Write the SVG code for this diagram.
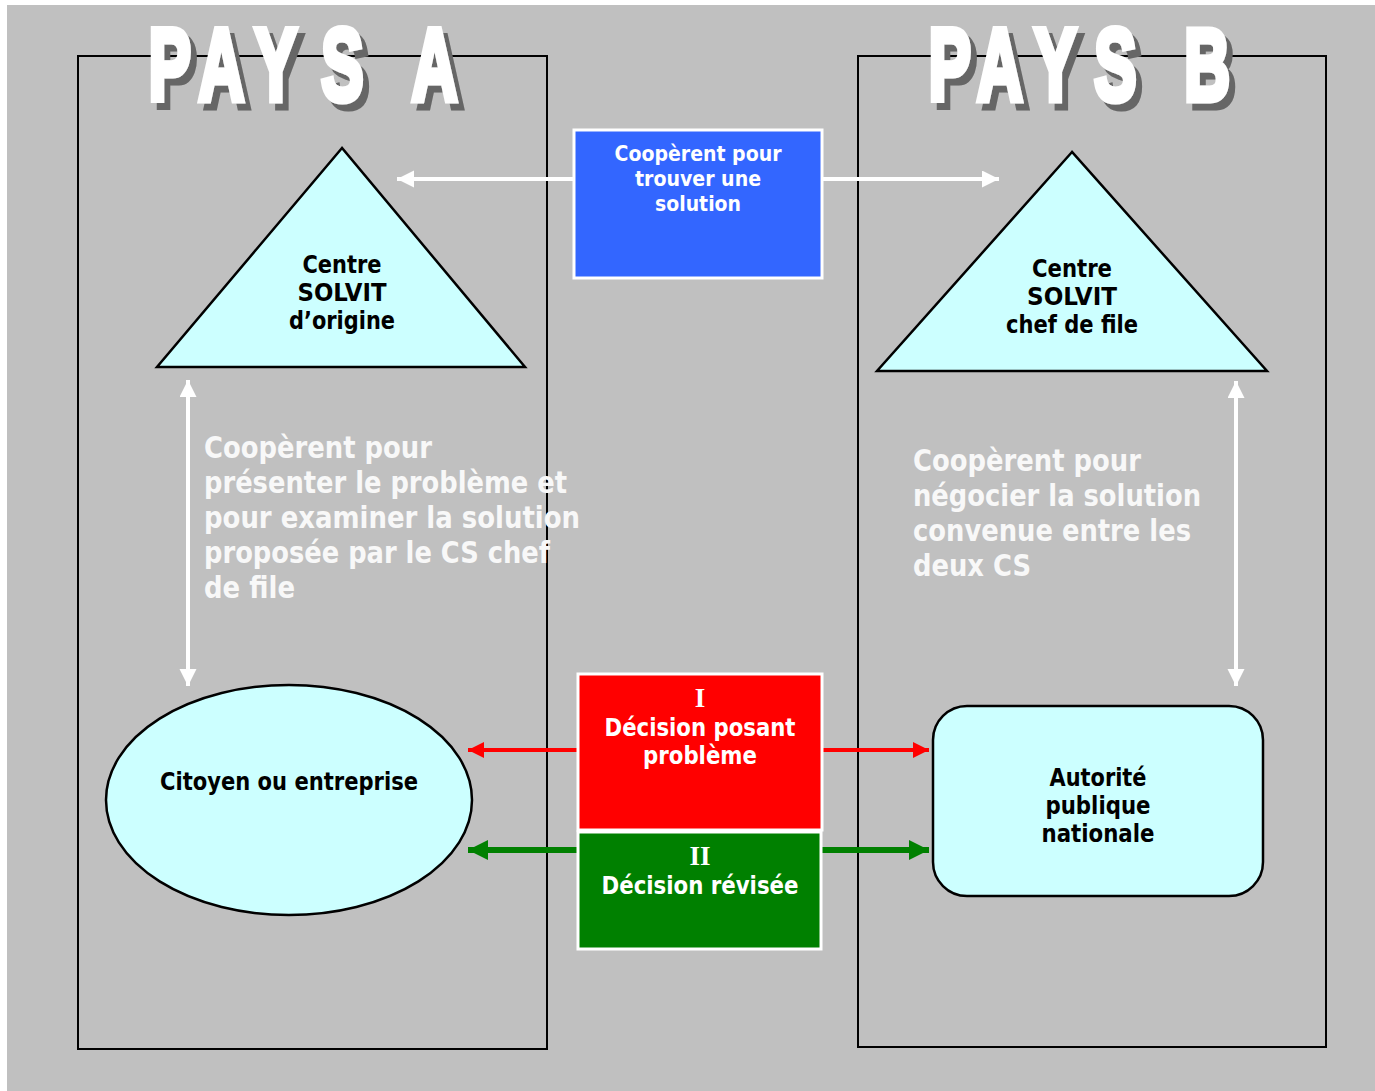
<svg xmlns="http://www.w3.org/2000/svg" width="1375" height="1091" viewBox="0 0 1375 1091">
<style>
.t{font-family:"DejaVu Sans","Noto Sans",sans-serif;font-weight:bold;text-anchor:middle}
.dk{fill:#000}
.wt{fill:#fff}
.fr{font-family:"DejaVu Sans","Noto Sans",sans-serif;font-weight:bold;fill:#f8f8f8;font-size:30px}
.sf{font-family:"Liberation Serif",serif;font-weight:bold;fill:#fff;font-size:27px;text-anchor:middle}
.big{font-family:"Liberation Sans",Arial,sans-serif;font-weight:bold;font-size:102px;fill:#fff;stroke:#fff;stroke-width:7;stroke-linejoin:miter}
.frame{fill:none;stroke:#000;stroke-width:2}
.shape{fill:#ccffff;stroke:#000;stroke-width:2.5}
</style>
<defs>
<filter id="sh" x="-5%" y="-10%" width="115%" height="130%">
<feOffset in="SourceAlpha" dx="6" dy="7" result="o"/>
<feFlood flood-color="#666666"/>
<feComposite in2="o" operator="in" result="s"/>
<feMerge><feMergeNode in="s"/><feMergeNode in="SourceGraphic"/></feMerge>
</filter>
<marker id="mw" markerUnits="userSpaceOnUse" markerWidth="20" markerHeight="20" refX="17" refY="8.5" orient="auto-start-reverse"><path d="M0,0 L17,8.5 L0,17 Z" fill="#fff"/></marker>
<marker id="mr" markerUnits="userSpaceOnUse" markerWidth="20" markerHeight="20" refX="16" refY="8" orient="auto-start-reverse"><path d="M0,0 L16,8 L0,16 Z" fill="#f00"/></marker>
<marker id="mg" markerUnits="userSpaceOnUse" markerWidth="24" markerHeight="24" refX="20" refY="10" orient="auto-start-reverse"><path d="M0,0 L20,10 L0,20 Z" fill="#008000"/></marker>
</defs>
<rect x="0" y="0" width="1375" height="1091" fill="#fff"/>
<rect x="7" y="5" width="1368" height="1086" fill="#c0c0c0"/>

<g id="pays-a">
<rect class="frame" x="78" y="56" width="469" height="993"/>
<g filter="url(#sh)">
<text class="big" transform="scale(0.62,1)" y="100"><tspan x="240">P</tspan><tspan x="320">A</tspan><tspan x="411">Y</tspan><tspan x="518">S</tspan><tspan x="664">A</tspan></text>
</g>
</g>

<g id="pays-b">
<rect class="frame" x="858" y="56" width="468" height="991"/>
<g filter="url(#sh)">
<text class="big" transform="scale(0.62,1)" y="100"><tspan x="1498">P</tspan><tspan x="1576">A</tspan><tspan x="1668">Y</tspan><tspan x="1765">S</tspan><tspan x="1910">B</tspan></text>
</g>
</g>

<g id="connectors" fill="none">
<line x1="573" y1="179" x2="397" y2="179" stroke="#fff" stroke-width="4" marker-end="url(#mw)"/>
<line x1="823" y1="179" x2="999" y2="179" stroke="#fff" stroke-width="4" marker-end="url(#mw)"/>
<line x1="188" y1="380" x2="188" y2="686" stroke="#fff" stroke-width="4" marker-start="url(#mw)" marker-end="url(#mw)"/>
<line x1="1236" y1="381" x2="1236" y2="686" stroke="#fff" stroke-width="4" marker-start="url(#mw)" marker-end="url(#mw)"/>
<line x1="577" y1="750" x2="468" y2="750" stroke="#f00" stroke-width="4" marker-end="url(#mr)"/>
<line x1="822" y1="750" x2="929" y2="750" stroke="#f00" stroke-width="4" marker-end="url(#mr)"/>
<line x1="577" y1="850" x2="468" y2="850" stroke="#008000" stroke-width="6" marker-end="url(#mg)"/>
<line x1="822" y1="850" x2="929" y2="850" stroke="#008000" stroke-width="6" marker-end="url(#mg)"/>
</g>

<g id="cooperer-solution">
<rect x="574" y="130" width="248" height="148" fill="#3366ff" stroke="#fff" stroke-width="3"/>
<g class="t wt" font-size="22">
<text x="698" y="161" textLength="167" lengthAdjust="spacingAndGlyphs">Coopèrent pour</text>
<text x="698" y="186" textLength="126" lengthAdjust="spacingAndGlyphs">trouver une</text>
<text x="698" y="211" textLength="86" lengthAdjust="spacingAndGlyphs">solution</text>
</g>
</g>

<g id="centre-origine">
<polygon class="shape" points="342,148 157,367 525,367"/>
<g class="t dk" font-size="24">
<text x="342" y="273" textLength="79" lengthAdjust="spacingAndGlyphs">Centre</text>
<text x="342" y="301" textLength="89" lengthAdjust="spacingAndGlyphs">SOLVIT</text>
<text x="342" y="329" textLength="106" lengthAdjust="spacingAndGlyphs">d’origine</text>
</g>
</g>

<g id="centre-chef">
<polygon class="shape" points="1072,152 877,371 1267,371"/>
<g class="t dk" font-size="24">
<text x="1072" y="277" textLength="80" lengthAdjust="spacingAndGlyphs">Centre</text>
<text x="1072" y="305" textLength="90" lengthAdjust="spacingAndGlyphs">SOLVIT</text>
<text x="1072" y="333" textLength="132" lengthAdjust="spacingAndGlyphs">chef de file</text>
</g>
</g>

<g id="texte-gauche" class="fr">
<text x="204" y="458" textLength="228" lengthAdjust="spacingAndGlyphs">Coopèrent pour</text>
<text x="204" y="493" textLength="363" lengthAdjust="spacingAndGlyphs">présenter le problème et</text>
<text x="204" y="528" textLength="376" lengthAdjust="spacingAndGlyphs">pour examiner la solution</text>
<text x="204" y="563" textLength="346" lengthAdjust="spacingAndGlyphs">proposée par le CS chef</text>
<text x="204" y="598" textLength="91" lengthAdjust="spacingAndGlyphs">de file</text>
</g>

<g id="texte-droite" class="fr">
<text x="913" y="471" textLength="228" lengthAdjust="spacingAndGlyphs">Coopèrent pour</text>
<text x="913" y="506" textLength="288" lengthAdjust="spacingAndGlyphs">négocier la solution</text>
<text x="913" y="541" textLength="278" lengthAdjust="spacingAndGlyphs">convenue entre les</text>
<text x="913" y="576" textLength="118" lengthAdjust="spacingAndGlyphs">deux CS</text>
</g>

<g id="citoyen">
<ellipse class="shape" cx="289" cy="800" rx="183" ry="115"/>
<text class="t dk" font-size="24" x="289" y="790" textLength="258" lengthAdjust="spacingAndGlyphs">Citoyen ou entreprise</text>
</g>

<g id="autorite">
<rect class="shape" x="933" y="706" width="330" height="190" rx="34"/>
<g class="t dk" font-size="24">
<text x="1098" y="786" textLength="97" lengthAdjust="spacingAndGlyphs">Autorité</text>
<text x="1098" y="814" textLength="105" lengthAdjust="spacingAndGlyphs">publique</text>
<text x="1098" y="842" textLength="113" lengthAdjust="spacingAndGlyphs">nationale</text>
</g>
</g>

<g id="decision-1">
<rect x="578" y="674" width="244" height="156" fill="#f00" stroke="#fff" stroke-width="3"/>
<text class="sf" x="700" y="707">I</text>
<g class="t wt" font-size="25">
<text x="700" y="736" textLength="191" lengthAdjust="spacingAndGlyphs">Décision posant</text>
<text x="700" y="764" textLength="114" lengthAdjust="spacingAndGlyphs">problème</text>
</g>
</g>

<g id="decision-2">
<rect x="578" y="832" width="243" height="117" fill="#008000" stroke="#fff" stroke-width="3"/>
<text class="sf" x="700" y="865">II</text>
<text class="t wt" font-size="25" x="700" y="894" textLength="197" lengthAdjust="spacingAndGlyphs">Décision révisée</text>
</g>
</svg>
